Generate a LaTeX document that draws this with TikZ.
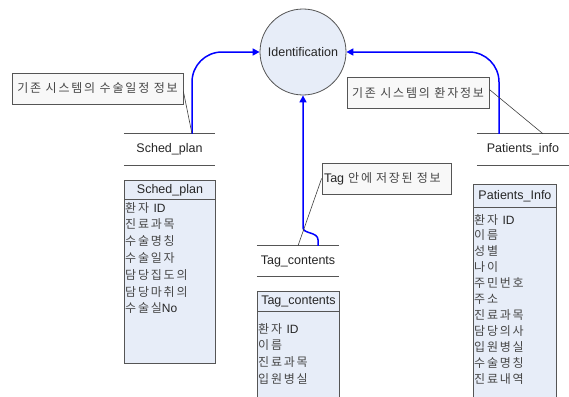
\documentclass[tikz,border=0pt]{standalone}
\usepackage{fontspec}
\setmainfont{Liberation Sans}
\newfontfamily\krfont[LetterSpace=15]{Noto Sans CJK KR}
\newfontfamily\latfont{Liberation Sans}
\newcommand\ltn[1]{{\latfont\color{black!85}#1}}
\usetikzlibrary{arrows.meta,calc}
\definecolor{paleblue}{RGB}{231,237,248}
\definecolor{edgegray}{RGB}{85,85,85}
\definecolor{textgray}{RGB}{70,70,70}
\definecolor{flowblue}{RGB}{0,0,255}
\definecolor{notefill}{RGB}{248,248,248}
\tikzset{
  process/.style={circle, draw=edgegray, line width=0.8pt, fill=paleblue,
    minimum size=86pt, inner sep=0pt, font=\fontsize{12.5}{14}\selectfont, text=black!85},
  store/.style={minimum height=31pt, inner sep=0pt, font=\fontsize{12.5}{14}\selectfont, text=black!85},
  storeline/.style={draw=edgegray, line width=0.9pt},
  tablebox/.style={draw=edgegray, line width=0.9pt, fill=paleblue, anchor=north west, inner sep=0pt},
  tablehead/.style={draw=edgegray, line width=0.9pt, anchor=north west, inner sep=0pt,
    font=\fontsize{12.5}{14}\selectfont, text=black!85},
  item/.style={anchor=base west, inner sep=0pt, font=\krfont\fontsize{12}{14}\selectfont, text=textgray},
  note/.style={draw=edgegray, line width=0.8pt, fill=notefill, minimum height=31pt, inner sep=2pt,
    font=\krfont\fontsize{12}{14}\selectfont, text=textgray},
  leader/.style={draw=black!75, line width=0.6pt},
  flow/.style={draw=flowblue, line width=1.5pt, rounded corners=30pt,
    -{Triangle[length=7pt,width=7pt]}},
}
\begin{document}
\begin{tikzpicture}[x=1pt,y=-1pt]
\useasboundingbox (0,0) rectangle (569,396);
\clip (0,0) rectangle (569,396);
\fill[white] (0,0) rectangle (569,396);

% central process
\node[process] (ident) at (303,52) {Identification};

% data stores
\node[store, minimum width=91pt] (sstore) at (169.5,149.5) {Sched\_plan};
\node[store, minimum width=82pt, minimum height=30pt] (tstore) at (298,261) {Tag\_contents};
\node[store, minimum width=92pt] (pstore) at (523,149.5) {Patients\_info};
\foreach \s in {sstore,tstore,pstore}{
  \draw[storeline] (\s.north west) -- (\s.north east);
  \draw[storeline] (\s.south west) -- (\s.south east);
}

% notes
\node[note, minimum width=171pt] (scall) at (97.5,88.5) {기존 시스템의 수술일정 정보};
\node[note, minimum width=129pt, text width=125pt, align=left] (tcall) at (386.5,178.5)
  {{\latfont\fontsize{12.5}{14}\selectfont\color{black!85}Tag} 안에 저장된 정보};
\node[note, minimum width=142pt] (pcall) at (418,92.5) {기존 시스템의 환자정보};

% flows into the process
\draw[flow] ([xshift=22.5pt]sstore.north) |- (ident.west);
\draw[flow] ([xshift=-24pt]pstore.north) |- (ident.east);
\draw[flow, rounded corners=0pt] ([xshift=20pt]tstore.north) -- ++(0,-6)
  .. controls +(0,-8) and +(0,6) .. ++(-15,-12) -- (ident.south);

% note leaders
\draw[leader] ([yshift=-3pt]scall.east) -- ([xshift=22.5pt]sstore.north);
\draw[leader] (tcall.west) -- (tstore.north);
\draw[leader] ([yshift=3pt]pcall.east) -- ([xshift=20pt]pstore.north);

% record tables
\node[tablebox, minimum width=91pt, minimum height=183pt] (stab) at (124,180) {};
\node[tablehead, minimum width=91pt, minimum height=19pt] (stabh) at (stab.north west) {Sched\_plan};
\node[tablebox, minimum width=82pt, minimum height=130pt] (ttab) at (257,291) {};
\node[tablehead, minimum width=82pt, minimum height=20pt] (ttabh) at (ttab.north west) {Tag\_contents};
\node[tablebox, minimum width=83pt, minimum height=230pt] (ptab) at (473,184) {};
\node[tablehead, minimum width=83pt, minimum height=23pt] (ptabh) at (ptab.north west) {Patients\_Info};

\foreach \t [count=\i] in {환자 \ltn{ID},진료과목,수술명칭,수술일자,담당집도의,담당마취의,수술실\ltn{No}}
  \node[item] (sf\i) at (125,{212+16.8*(\i-1)}) {\t};
\foreach \t [count=\i] in {환자 \ltn{ID},이름,진료과목,입원병실}
  \node[item] (tf\i) at (258,{333+16.7*(\i-1)}) {\t};
\foreach \t [count=\i] in {환자 \ltn{ID},이름,성별,나이,주민번호,주소,진료과목,담당의사,입원병실,수술명칭,진료내역}
  \node[item] (pf\i) at (474,{224+15.9*(\i-1)}) {\t};
\end{tikzpicture}
\end{document}
